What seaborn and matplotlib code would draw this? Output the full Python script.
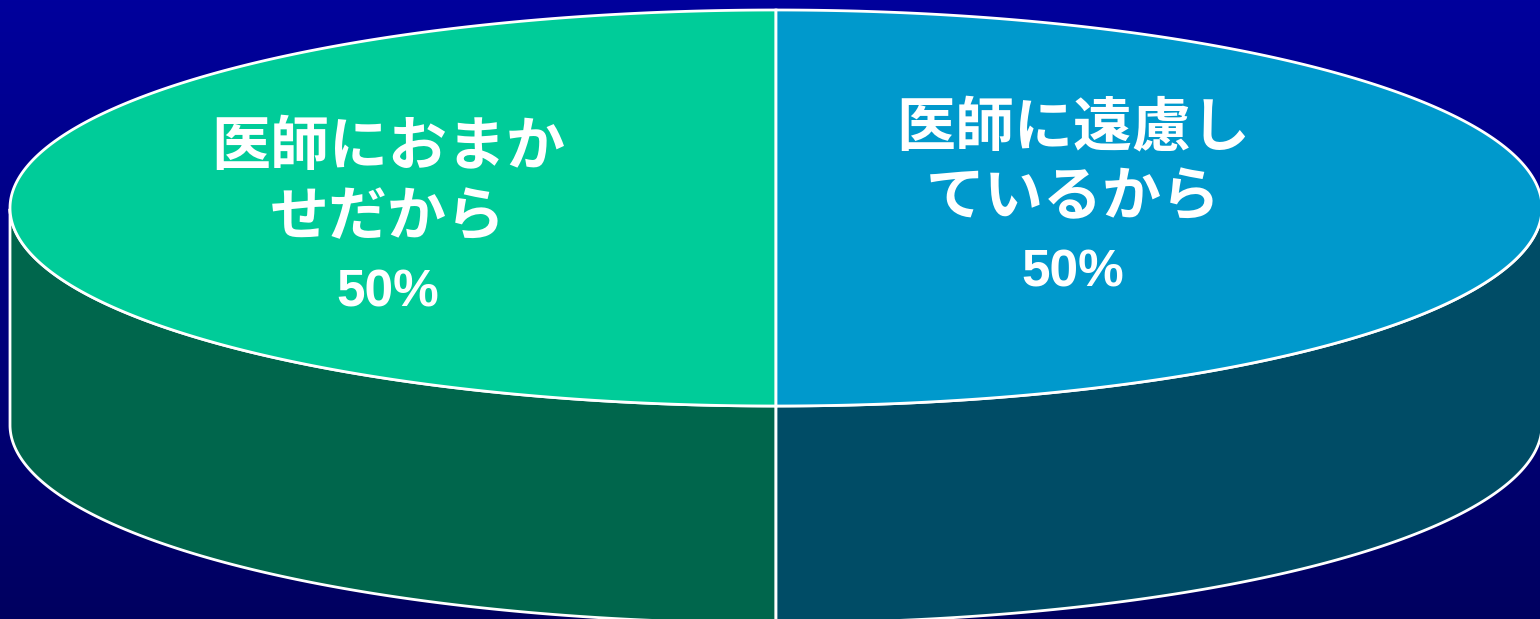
import numpy as np
import matplotlib
matplotlib.use("Agg")
import matplotlib.pyplot as plt
from matplotlib.patches import Polygon
import seaborn as sns

# ---- data ----
labels = ["医師におまか\nせだから", "医師に遠慮し\nているから"]
values = [50, 50]
top_colors = ["#00CC99", "#0099CC"]
side_colors = ["#00664C", "#004C66"]

sns.set_theme(style="white")
plt.rcParams["font.family"] = ["Liberation Sans", "Noto Sans CJK JP", "DejaVu Sans"]

W, H = 1540, 619
fig = plt.figure(figsize=(15.40, 6.19), dpi=100)
ax = fig.add_axes([0, 0, 1, 1])
ax.set_xlim(0, W)
ax.set_ylim(H, 0)
ax.axis("off")

# background gradient
grad = np.linspace(0, 1, 256).reshape(-1, 1)
top = np.array([0x00, 0x00, 0x9C]) / 255
bot = np.array([0x00, 0x00, 0x60]) / 255
img = top + (bot - top) * grad[..., None]
ax.imshow(img, extent=[0, W, H, 0], aspect="auto", zorder=0)

cx, cy, a, b, depth = 776, 208, 766, 198, 217
lw = 2.0

def pt(t, dy=0.0):
    return cx + a * np.cos(t), cy - b * np.sin(t) + dy

total = sum(values)
start = np.pi / 2  # start at top, go counter-clockwise
angles = []
for v in values:
    sweep = 2 * np.pi * v / total
    angles.append((start, start + sweep))
    start += sweep

# sides (front half)
for (t0, t1), sc in zip(angles, side_colors):
    ts = np.linspace(t0, t1, 400)
    tm = np.mod(ts, 2 * np.pi)
    mask = (tm >= np.pi) & (tm <= 2 * np.pi)
    if not mask.any():
        continue
    seg = ts[mask]
    xs, ys = pt(seg)
    xb, yb = pt(seg[::-1], depth)
    poly = np.column_stack([np.concatenate([xs, xb]), np.concatenate([ys, yb])])
    ax.add_patch(Polygon(poly, closed=True, facecolor=sc, edgecolor="white", lw=lw, zorder=2))

# top faces
for (t0, t1), tc in zip(angles, top_colors):
    ts = np.linspace(t0, t1, 400)
    xs, ys = pt(ts)
    poly = np.column_stack([np.concatenate([[cx], xs]), np.concatenate([[cy], ys])])
    ax.add_patch(Polygon(poly, closed=True, facecolor=tc, edgecolor="white", lw=lw, zorder=3))

# labels
label_pos = [(388, 149), (1073, 129)]
line_gap = 71
for lab, v, (lx, ly) in zip(labels, values, label_pos):
    lines = lab.split("\n")
    for i, line in enumerate(lines):
        ax.text(lx, ly + i * line_gap, line, color="white", fontsize=42.5,
                fontweight="bold", ha="center", va="center", zorder=5)
    ax.text(lx, ly + len(lines) * line_gap + 2, f"{round(100 * v / total)}%",
            color="white", fontsize=37, fontweight="bold", ha="center",
            va="center", zorder=5)

fig.savefig("out.png", dpi=100)
